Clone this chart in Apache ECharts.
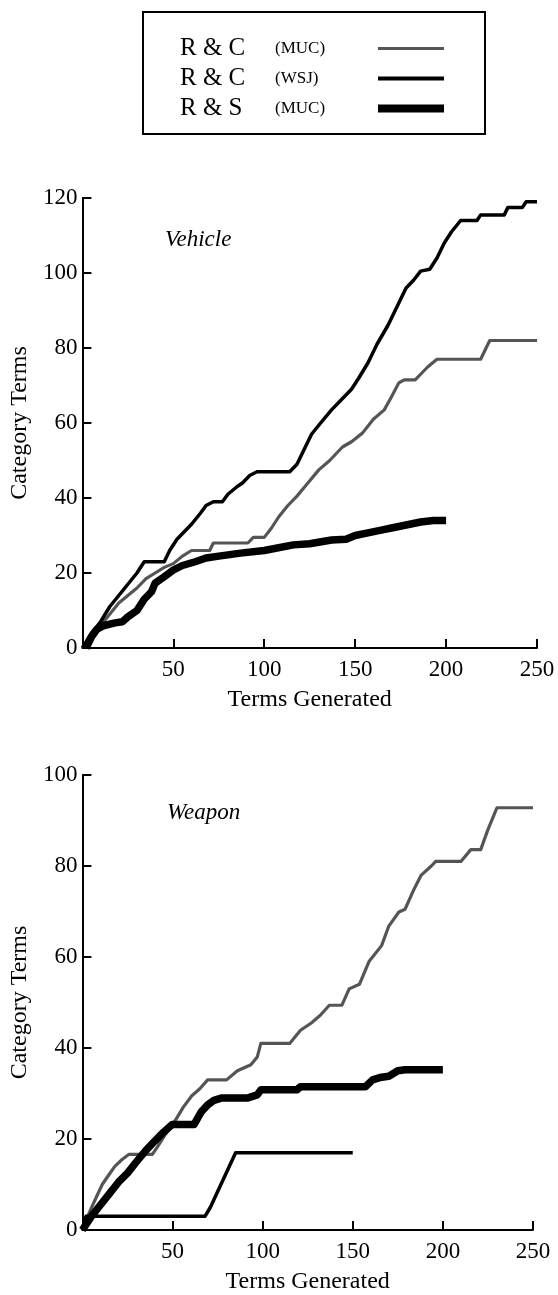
<!DOCTYPE html>
<html>
<head>
<meta charset="utf-8">
<script src="https://cdn.jsdelivr.net/npm/echarts@6/dist/echarts.min.js"></script>
<style>
  html, body { margin: 0; padding: 0; background: #fff; }
  #chart { width: 558px; height: 1295px; }
</style>
</head>
<body>
<div id="chart"></div>
<script>
// [terms generated, category terms]
const vehicleRcMuc = [[0,0],[5,3],[10,6],[15,9],[20,12],[25,14],[30,16],[35,18.5],[40,20],[45,21.5],[50,22.5],[55,24.5],[60,26],[70,26],[72,28],[91,28],[94,29.5],[100,29.5],[104,32],[108,35],[113,38],[118,40.5],[124,44],[130,47.5],[136,50],[143,53.6],[148,55],[154,57.3],[160,61],[166,63.5],[170,67],[174,70.7],[177,71.5],[183,71.5],[186,73],[190,75],[195,77],[219,77],[224,82],[250,82]]
const vehicleRcWsj = [[0,0],[5,4],[10,7],[15,11],[20,14],[25,17],[30,20],[34,23],[45,23],[48,26],[52,29],[56,31],[60,33],[65,36],[68,38],[72,39],[77,39],[80,41],[85,43],[88,44],[92,46],[96,47],[114,47],[118,49],[122,53],[126,57],[131,60],[137,63.5],[142,66],[148,69],[152,72],[157,76],[162,81],[168,86],[173,91],[178,96],[182,98],[186,100.5],[191,101],[195,104],[199,108],[203,111],[208,114],[217,114],[219,115.5],[232,115.5],[234,117.5],[242,117.5],[244,119],[250,119]]
const vehicleRsMuc = [[2,0],[5,3],[8,5],[12,6],[18,6.7],[22,7],[25,8.3],[30,10],[34,13],[38,15],[40,17.3],[45,19],[50,20.8],[55,22],[62,23],[68,24],[75,24.5],[87,25.3],[100,26],[116,27.5],[125,27.8],[137,28.8],[145,29],[150,30],[157,30.7],[165,31.5],[170,32],[180,33],[186,33.6],[193,34],[200,34]]

const weaponRcMuc = [[0,0],[4,4],[7.7,7.2],[11,10],[14.8,12.2],[18,14],[22,15.5],[25.7,16.6],[38.8,16.6],[42,18.5],[46,21],[51.4,24],[56,27],[60.7,29.5],[65,31],[69.5,33],[80,33],[86,35],[93.5,36.3],[97,38],[99,41],[115,41],[121,43.9],[127,45.5],[132,47.2],[137,49.4],[144,49.4],[148,53],[153.7,54],[159,59],[166,62.5],[170,66.8],[175.6,69.9],[179,70.5],[184,74.9],[188,78],[193.6,80],[196,81],[210,81],[215.5,83.6],[221,83.6],[225,88],[230,92.8],[250,92.8]]
const weaponRcWsj = [[0,0],[2,3],[68,3],[71,5],[85,17],[150,17]]
const weaponRsMuc = [[0,0],[5,3],[10,5.5],[14.8,7.9],[20,10.5],[25,12.5],[30,15],[35,17.4],[40,19.5],[45,21.5],[49.8,23.2],[62,23.2],[66,26],[69.5,27.5],[73,28.5],[77,29],[91.4,29],[97,29.7],[99,30.8],[119,30.8],[121,31.5],[157,31.5],[161,33],[165,33.5],[170,33.8],[175,35],[179,35.2],[200,35.2]]

const names = ['R & C (MUC)', 'R & C (WSJ)', 'R & S (MUC)']
const FONT = 'Liberation Serif'

function xAxisFor (idx) {
  return {
    gridIndex: idx,
    type: 'value',
    min: 0,
    max: 250,
    interval: 50,
    name: 'Terms Generated',
    nameLocation: 'middle',
    nameGap: 40,
    nameTextStyle: { fontFamily: FONT, fontSize: 24, color: '#000' },
    axisLine: { lineStyle: { color: '#000', width: 2 } },
    axisTick: { inside: true, length: 9, lineStyle: { color: '#000', width: 2 } },
    axisLabel: {
      margin: 10,
      fontFamily: FONT,
      fontSize: 23,
      color: '#000',
      formatter: v => v === 0 ? '' : v
    },
    splitLine: { show: false }
  }
}

function yAxisFor (idx, max) {
  return {
    gridIndex: idx,
    type: 'value',
    min: 0,
    max: max,
    interval: 20,
    name: 'Category Terms',
    nameLocation: 'middle',
    nameRotate: 90,
    nameGap: 42,
    nameTextStyle: { fontFamily: FONT, fontSize: 24, color: '#000' },
    axisLine: { show: true, lineStyle: { color: '#000', width: 2 } },
    axisTick: { show: true, inside: true, length: 9, lineStyle: { color: '#000', width: 2 } },
    axisLabel: { margin: 5, fontFamily: FONT, fontSize: 23, color: '#000' },
    splitLine: { show: false }
  }
}

function lineSeries (name, idx, data) {
  let color = '#000'
  let width = 3.5
  if (name === names[0]) { color = '#555'; width = 3.2 }
  if (name === names[2]) { width = 7.5 }
  return {
    name: name,
    type: 'line',
    xAxisIndex: idx,
    yAxisIndex: idx,
    data: data,
    color: color,
    showSymbol: false,
    symbol: 'none',
    lineStyle: { color: color, width: width, join: 'round' },
    animation: false
  }
}

let chart = echarts.init(document.getElementById('chart'))
chart.setOption({
  backgroundColor: '#fff',
  animation: false,
  title: [
    { text: 'Vehicle', left: 160, top: 223, textStyle: { fontFamily: FONT, fontStyle: 'italic', fontWeight: 'normal', fontSize: 23, color: '#000' } },
    { text: 'Weapon', left: 162, top: 796, textStyle: { fontFamily: FONT, fontStyle: 'italic', fontWeight: 'normal', fontSize: 23, color: '#000' } }
  ],
  legend: {
    orient: 'vertical',
    left: 143,
    top: 12,
    align: 'right',
    selectedMode: false,
    borderColor: '#000',
    borderWidth: 2,
    padding: [24, 41, 13, 37],
    itemGap: 5,
    itemWidth: 66,
    itemHeight: 10,
    data: [
      { name: names[0], icon: 'path://M0,0H66V3H0Z', itemStyle: { color: '#555' } },
      { name: names[1], icon: 'path://M0,0H66V4H0Z', itemStyle: { color: '#000' } },
      { name: names[2], icon: 'path://M0,0H66V8H0Z', itemStyle: { color: '#000' } }
    ],
    formatter: name => {
      let parts = name.split(' (')
      return '{a|' + parts[0] + '}{b|(' + parts[1] + '}'
    },
    textStyle: {
      rich: {
        a: { fontFamily: FONT, fontSize: 25, width: 95, lineHeight: 24, align: 'left', color: '#000' },
        b: { fontFamily: FONT, fontSize: 17, width: 98, lineHeight: 24, align: 'left', color: '#000' }
      }
    }
  },
  grid: [
    { left: 77, top: 198, width: 460, height: 450 },
    { left: 76, top: 775, width: 457, height: 458 }
  ],
  xAxis: [xAxisFor(0), xAxisFor(1)],
  yAxis: [yAxisFor(0, 120), yAxisFor(1, 100)],
  series: [
    lineSeries(names[0], 0, vehicleRcMuc),
    lineSeries(names[1], 0, vehicleRcWsj),
    lineSeries(names[2], 0, vehicleRsMuc),
    lineSeries(names[0], 1, weaponRcMuc),
    lineSeries(names[1], 1, weaponRcWsj),
    lineSeries(names[2], 1, weaponRsMuc)
  ]
})
</script>
</body>
</html>
